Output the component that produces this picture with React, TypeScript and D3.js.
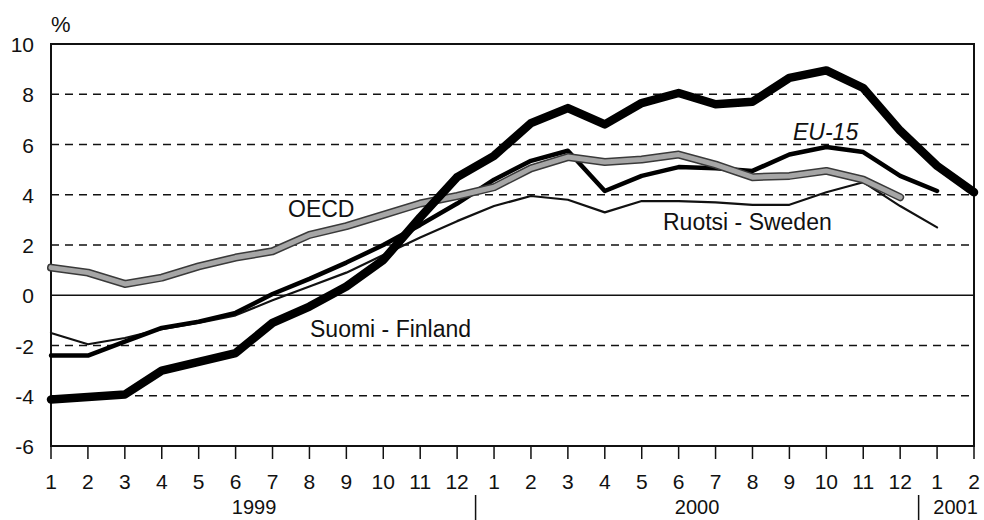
import { useMemo } from 'react';
import * as d3 from 'd3';

// kuukaudet 1/1999 - 2/2001
const months = ['1', '2', '3', '4', '5', '6', '7', '8', '9', '10', '11', '12',
  '1', '2', '3', '4', '5', '6', '7', '8', '9', '10', '11', '12', '1', '2'];
const years = ['1999', '2000', '2001'];
const monthsPerYear = [12, 12, 2];
const yTicks = [-6, -4, -2, 0, 2, 4, 6, 8, 10];

const finland = [-4.15, -4.05, -3.95, -3.0, -2.65, -2.3, -1.1, -0.45, 0.35, 1.4, 3.1, 4.7,
  5.55, 6.85, 7.45, 6.8, 7.65, 8.05, 7.6, 7.7, 8.65, 8.95, 8.25, 6.55, 5.15, 4.1];
const eu15 = [-2.4, -2.4, -1.85, -1.3, -1.05, -0.7, 0.05, 0.65, 1.3, 2.0, 2.8, 3.65,
  4.6, 5.35, 5.75, 4.15, 4.75, 5.1, 5.05, 4.95, 5.6, 5.9, 5.7, 4.75, 4.15];
const sweden = [-1.5, -1.95, -1.7, -1.35, -1.1, -0.8, -0.2, 0.35, 0.9, 1.6, 2.3, 2.95,
  3.55, 3.95, 3.8, 3.3, 3.75, 3.75, 3.7, 3.6, 3.6, 4.1, 4.5, 3.55, 2.7];
const oecd = [1.1, 0.9, 0.45, 0.7, 1.15, 1.5, 1.75, 2.4, 2.75, 3.2, 3.65, 3.95,
  4.3, 5.05, 5.5, 5.3, 5.4, 5.6, 5.2, 4.7, 4.75, 4.95, 4.6, 3.9];

const width = 984;
const height = 520;
const font = '"Liberation Sans", Arial, Helvetica, sans-serif';

export default function App() {
  const x = useMemo(() => d3.scaleLinear().domain([0, months.length - 1]).range([51, 974]), []);
  const y = useMemo(() => d3.scaleLinear().domain([-6, 10]).range([446, 44]), []);
  const line = d3.line<number>().x((_, i) => x(i)).y(d => y(d));

  const [x0, x1] = x.range();
  const [yb, yt] = y.range();

  // vuosirajat
  let acc = 0;
  const yearSpans = years.map((label, k) => {
    const start = acc;
    acc += monthsPerYear[k];
    return { label, start, end: acc - 1 };
  });

  return (
    <svg width={width} height={height} style={{ position: 'absolute', left: 0, top: 0, background: 'white' }}
      fontFamily={font}>
      {/* ruudukko */}
      {yTicks.filter(t => t !== 0 && t !== -6 && t !== 10).map(t => (
        <line key={t} x1={x0} x2={x1} y1={y(t)} y2={y(t)} stroke="#111" strokeWidth={1.5}
          strokeDasharray="8,6" />
      ))}
      <line x1={x0} x2={x1} y1={y(0)} y2={y(0)} stroke="#111" strokeWidth={1.5} />
      <rect x={x0} y={yt} width={x1 - x0} height={yb - yt} fill="none" stroke="#111" strokeWidth={2} />

      {/* y-akseli */}
      {yTicks.map(t => (
        <text key={t} x={34} y={y(t) + 8} textAnchor="end" fontSize={21} fill="#111">{t}</text>
      ))}
      <text x={51} y={32} fontSize={22} fill="#111">%</text>

      {/* x-akseli */}
      {months.map((m, i) => (
        <g key={i}>
          <line x1={x(i)} x2={x(i)} y1={yb} y2={yb + 13} stroke="#111" strokeWidth={1.5} />
          <text x={x(i)} y={489} textAnchor="middle" fontSize={21} fill="#111">{m}</text>
        </g>
      ))}
      {yearSpans.map((s, k) => (
        <g key={s.label}>
          <text x={(x(s.start) + x(s.end)) / 2} y={514} textAnchor="middle" fontSize={20} fill="#111">
            {s.label}
          </text>
          {k > 0 && (
            <line x1={x(s.start - 0.5)} x2={x(s.start - 0.5)} y1={495} y2={520} stroke="#111" strokeWidth={1.5} />
          )}
        </g>
      ))}

      {/* sarjat */}
      <path d={line(sweden) ?? ''} fill="none" stroke="#111" strokeWidth={2.2} strokeLinejoin="round" strokeLinecap="round" />
      <path d={line(eu15) ?? ''} fill="none" stroke="#000" strokeWidth={4.5} strokeLinejoin="round" strokeLinecap="round" />
      <path d={line(oecd) ?? ''} fill="none" stroke="#3a3a3a" strokeWidth={8} strokeLinejoin="round" strokeLinecap="round" />
      <path d={line(oecd) ?? ''} fill="none" stroke="#a6a6a6" strokeWidth={5} strokeLinejoin="round" strokeLinecap="round" />
      <path d={line(finland) ?? ''} fill="none" stroke="#000" strokeWidth={8.5} strokeLinejoin="round" strokeLinecap="round" />

      {/* sarjojen nimet */}
      <text x={288} y={217} fontSize={23} fill="#111">OECD</text>
      <text x={793} y={140} fontSize={23} fontStyle="italic" fill="#111">EU-15</text>
      <text x={663} y={230} fontSize={23} fill="#111">Ruotsi - Sweden</text>
      <text x={310} y={337} fontSize={23} fill="#111">Suomi - Finland</text>
    </svg>
  );
}
